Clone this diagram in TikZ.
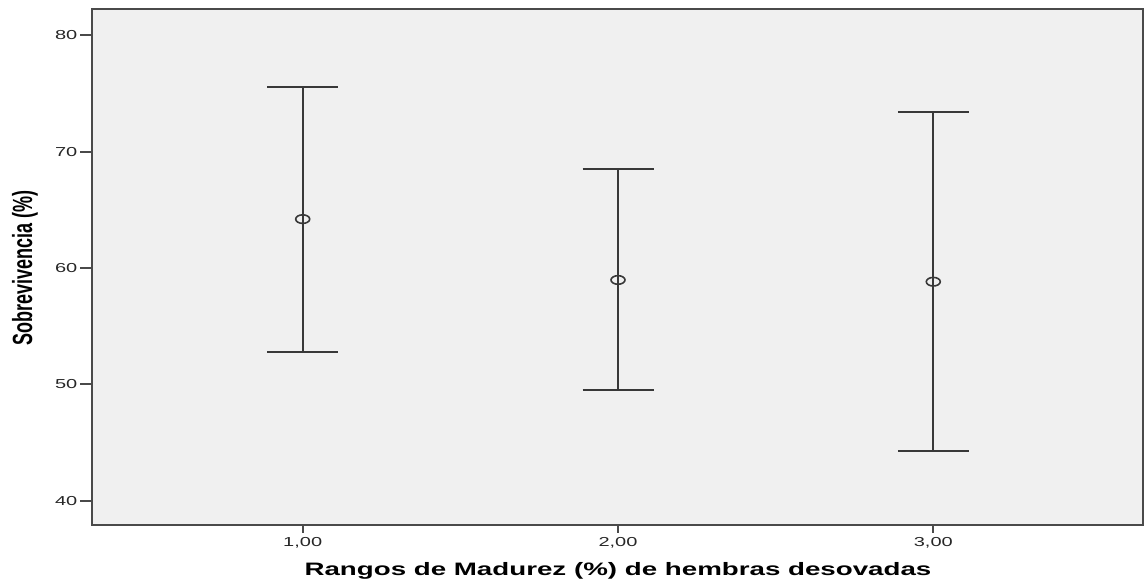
\documentclass[tikz,border=0pt]{standalone}
\usepackage{fontspec}
\setmainfont{Liberation Sans}
\usepackage{graphicx}
\usetikzlibrary{positioning}
\definecolor{plotbg}{HTML}{F0F0F0}
\definecolor{framegray}{HTML}{4A4A4A}
\definecolor{bargray}{HTML}{383838}

\begin{document}
\begin{tikzpicture}[x=315.3pt, y=11.635pt,
    frame/.style={draw=framegray, line width=2pt, fill=plotbg},
    tick/.style={draw=framegray, line width=2pt},
    bar/.style={draw=bargray, line width=2pt},
    ticklab/.style={font=\fontsize{13}{13}\selectfont, inner sep=0pt, text=black!85},
    axtitle/.style={font=\fontsize{18}{18}\selectfont\bfseries, inner sep=0pt}]
    % Picture size = 1144 x 582 px
    \useasboundingbox (0.03996,33.01) rectangle (3.6683,83.034);
    % Plot area
    \draw[frame] (1/3,37.91) rectangle (3.664,82.22);

    % Y axis ticks and labels
    \foreach \v in {40,50,...,80} {
        \coordinate (yt\v) at (1/3,\v);
        \draw[tick] (yt\v) -- ++(-12pt,0) coordinate (ys\v);
        \node[ticklab, left=3pt of ys\v] (yl\v) {\scalebox{1.54}[1]{\v}};
    }
    % X axis ticks and labels
    \foreach \g in {1,2,3} {
        \coordinate (xt\g) at (\g,37.91);
        \draw[tick] (xt\g) -- ++(0,-8pt) coordinate (xs\g);
        \node[ticklab, below=4pt of xs\g] (xl\g) {\scalebox{1.54}[1]{\g,00}};
    }

    % Define error bars: group/low/mean/high
    \foreach \g/\lo/\m/\hi in {1/52.8/64.2/75.58, 2/49.5/58.97/68.48, 3/44.27/58.82/73.43} {
        \coordinate (lo\g) at (\g,\lo);
        \coordinate (hi\g) at (\g,\hi);
        \coordinate (m\g) at (\g,\m);
        \draw[bar] (lo\g) -- (hi\g);
        \draw[bar] ([xshift=-35.5pt]lo\g) -- ([xshift=35.5pt]lo\g);
        \draw[bar] ([xshift=-35.5pt]hi\g) -- ([xshift=35.5pt]hi\g);
        \draw[bar, line width=1.6pt] (m\g) ellipse[x radius=7pt, y radius=4.3pt];
    }

    % Axis titles
    \node[axtitle, rotate=90] (ytitle) at (0.1193,60) {\scalebox{1}[1.54]{Sobrevivencia (\%)}};
    \node[axtitle] (xtitle) at (2,34.0) {\scalebox{1.54}[1]{Rangos de Madurez (\%) de hembras desovadas}};
\end{tikzpicture}
\end{document}
